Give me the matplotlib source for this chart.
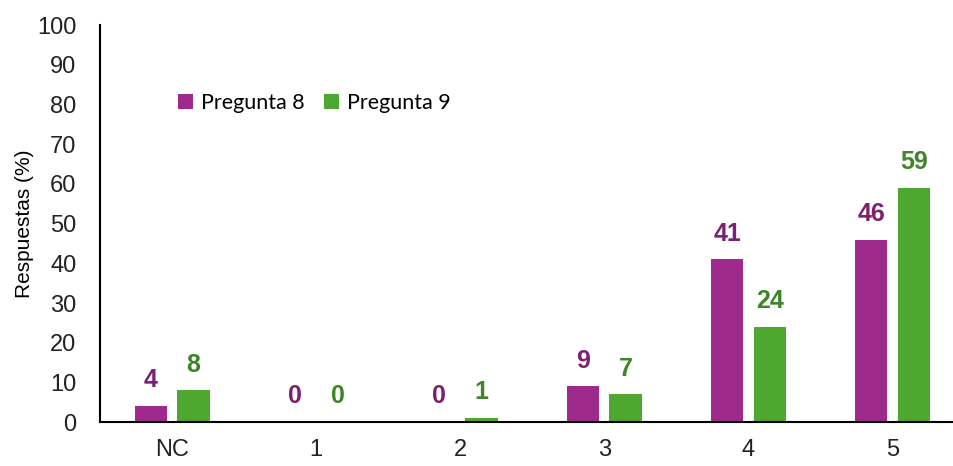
import matplotlib
matplotlib.use("Agg")
import matplotlib.pyplot as plt
import numpy as np

categorias = ["NC", "1", "2", "3", "4", "5"]
pregunta8 = [4, 0, 0, 9, 41, 46]
pregunta9 = [8, 0, 1, 7, 24, 59]
yticks = list(range(0, 101, 10))

C8, C9 = "#9E2A8E", "#4EA72E"
L8, L9 = "#7A2170", "#3D8526"

plt.rcParams["font.family"] = ["Liberation Sans", "DejaVu Sans"]

fig = plt.figure(figsize=(9.54, 4.66), dpi=100)
ax = fig.add_axes([0.105, 0.094, 0.906, 0.852])

x = np.arange(len(categorias))
w = 0.225
off = 0.148
b8 = ax.bar(x - off, pregunta8, w, color=C8, label="Pregunta 8")
b9 = ax.bar(x + off, pregunta9, w, color=C9, label="Pregunta 9")

for bars, vals, col in ((b8, pregunta8, L8), (b9, pregunta9, L9)):
    for r, v in zip(bars, vals):
        ax.annotate(f"{v}", (r.get_x() + r.get_width() / 2, v), xytext=(0, 10),
                    textcoords="offset points", ha="center", va="bottom",
                    fontsize=18, fontweight="bold", color=col)

ax.set_xlim(-0.5, len(categorias) - 0.5)
ax.set_ylim(0, 100)
ax.set_yticks(yticks)
ax.set_xticks(x)
ax.set_xticklabels(categorias)
ax.tick_params(axis="both", length=0, labelsize=17, colors="#222222")
ax.tick_params(axis="y", pad=17)
ax.tick_params(axis="x", pad=12)
for s in ("top", "right"):
    ax.spines[s].set_visible(False)
ax.spines["left"].set_linewidth(1.5)
ax.spines["bottom"].set_linewidth(1.5)
ax.set_ylabel("Respuestas (%)", fontsize=15, labelpad=2)

ax.legend(loc="upper left", bbox_to_anchor=(0.068, 0.878), ncol=2, frameon=False,
          handlelength=0.7, handleheight=0.7, handletextpad=0.35,
          columnspacing=0.9, prop={"family": "Lato", "size": 15.5})

fig.savefig("out.png", dpi=100)
